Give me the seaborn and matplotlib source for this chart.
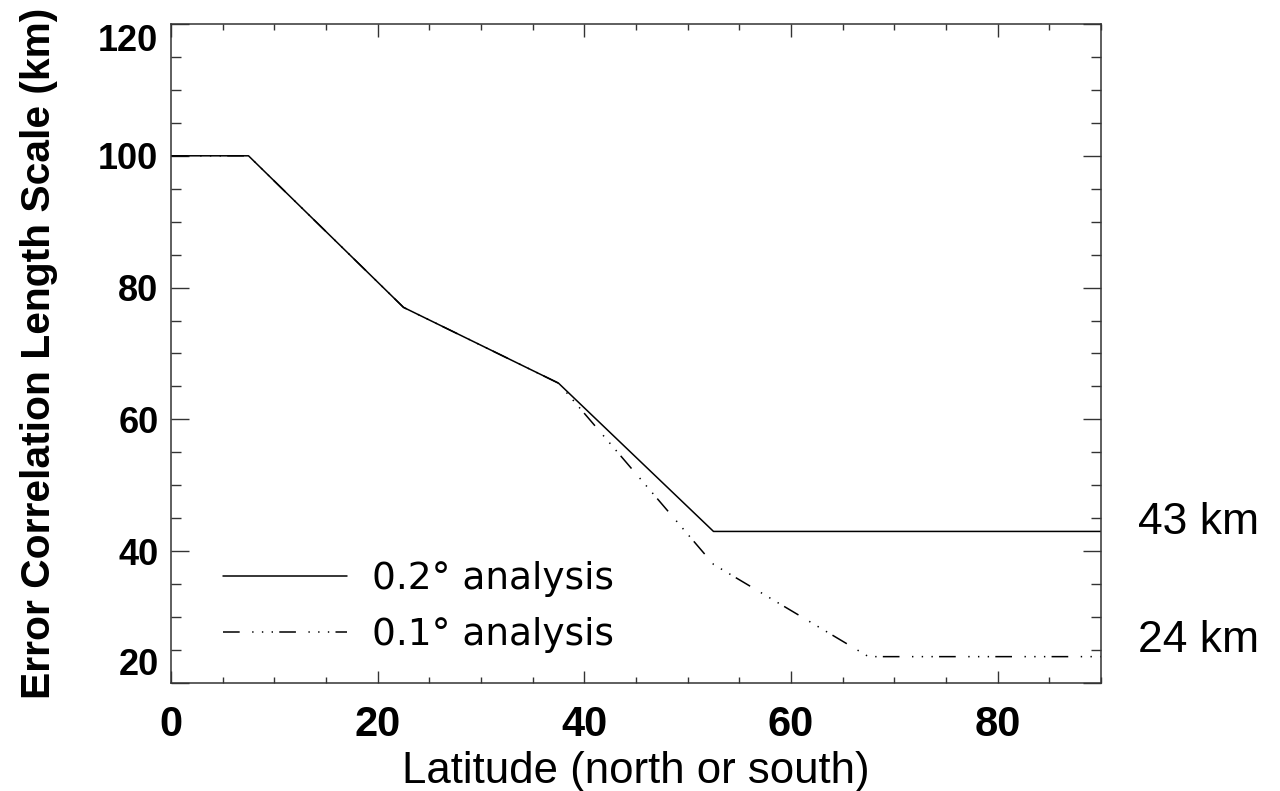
import matplotlib
matplotlib.use("Agg")
import matplotlib.pyplot as plt
import seaborn as sns
import pandas as pd

# ---- data ----
lat_02 = [0, 7.5, 22.5, 37.5, 52.5, 90]
scale_02 = [100, 100, 77, 65.5, 43, 43]
lat_01 = [0, 7.5, 22.5, 37.5, 52.5, 67.5, 90]
scale_01 = [100, 100, 77, 65.5, 38, 24, 24]
label_02 = "0.2° analysis"
label_01 = "0.1° analysis"
x_ticks = [0, 20, 40, 60, 80]
y_ticks = [20, 40, 60, 80, 100, 120]
annotations = ["43 km", "24 km"]
annot_y = [44.4, 26.5]

sns.set_style("ticks")
plt.rcParams["font.family"] = ["Liberation Sans", "DejaVu Sans"]
plt.rcParams["lines.scale_dashes"] = False
plt.rcParams["text.color"] = "black"
plt.rcParams["axes.labelcolor"] = "black"
plt.rcParams["xtick.color"] = "black"
plt.rcParams["ytick.color"] = "black"

fig = plt.figure(figsize=(12.8, 7.91), dpi=100)
ax = fig.add_axes([171 / 1280, 1 - 683 / 791, 930 / 1280, 659 / 791])

df02 = pd.DataFrame({"lat": lat_02, "scale": scale_02})
df01 = pd.DataFrame({"lat": lat_01, "scale": scale_01})
sns.lineplot(data=df02, x="lat", y="scale", ax=ax, color="black", lw=1.1,
             label=label_02, sort=False)
sns.lineplot(data=df01, x="lat", y="scale", ax=ax, color="black", lw=1.1,
             label=label_01, sort=False)
ax.lines[1].set_dashes((12, 9, 1, 6, 1, 6, 1, 4.5))

ax.set_xlim(0, 90)
ax.set_ylim(20, 120)
ax.set_xticks(x_ticks)
ax.set_yticks(y_ticks)
ax.set_xticks(range(0, 91, 5), minor=True)
ax.set_yticks(range(20, 121, 5), minor=True)
ax.tick_params(axis="both", which="both", direction="in", top=True, right=True,
               color="#333333", labelcolor="black", width=1.0)
ax.tick_params(axis="x", which="major", length=9, pad=16)
ax.tick_params(axis="x", which="minor", length=4)
ax.tick_params(axis="y", which="major", length=13, pad=9)
ax.tick_params(axis="y", which="minor", length=7)
for spine in ax.spines.values():
    spine.set_color("#333333")
    spine.set_linewidth(1.1)
    spine.set_visible(True)

for lab in ax.get_xticklabels():
    lab.set_fontsize(30)
    lab.set_fontweight("bold")
for lab in ax.get_yticklabels():
    lab.set_fontsize(26)
    lab.set_fontweight("bold")
ylabs = ax.get_yticklabels()
ylabs[0].set_va("bottom")
ylabs[-1].set_va("top")

ax.set_xlabel("Latitude (north or south)", fontsize=31.5, color="black",
              va="top")
ax.xaxis.set_label_coords(0.5, -0.103)
ax.set_ylabel("Error Correlation Length Scale (km)", fontsize=29.3,
              fontweight="bold", color="black", va="center")
ax.yaxis.set_label_coords(-0.142, 0.5)

leg = ax.legend(loc="center left", bbox_to_anchor=(0.056, 0.115), frameon=False,
                prop={"family": "DejaVu Sans", "size": 27}, handlelength=3.3,
                handletextpad=0.66, labelspacing=0.54, borderpad=0,
                borderaxespad=0)
for t in leg.get_texts():
    t.set_color("black")

for txt, yv in zip(annotations, annot_y):
    ax.text(93.6, yv, txt, fontsize=32, va="center", ha="left", color="black",
            clip_on=False)

fig.savefig("out.png", dpi=100)
